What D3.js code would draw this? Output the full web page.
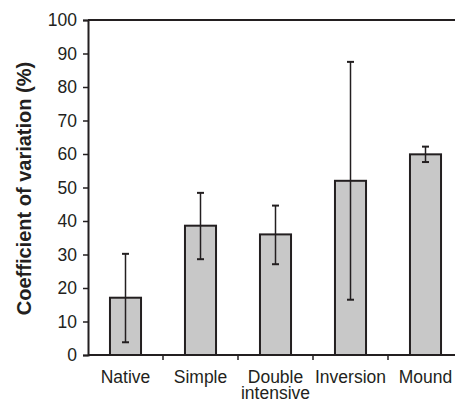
<!DOCTYPE html>
<html>
<head>
<meta charset="utf-8">
<script src="https://cdn.jsdelivr.net/npm/d3@7"></script>
<style>
  body { margin: 0; background: #fff; }
  text { font-family: "Liberation Sans", Arial, sans-serif; fill: #231f20; }
</style>
</head>
<body>
<div id="chart"></div>
<script>
// chart data
var categories = ['Native', 'Simple', 'Double intensive', 'Inversion', 'Mound'];
var means = [17.1, 38.6, 36.0, 52.0, 59.9];
var errLow = [3.8, 28.6, 27.1, 16.5, 57.6];
var errHigh = [30.2, 48.4, 44.6, 87.5, 62.2];
var yTicks = [0, 10, 20, 30, 40, 50, 60, 70, 80, 90, 100];

var width = 455;
var height = 402;
var margin = {top: 20, left: 88, bottom: 47};
var plotRight = 463; // last band runs past the picture edge
var fontSize = 17.5;

var svg = d3.select('#chart').append('svg')
  .attr('width', width)
  .attr('height', height);

var x = d3.scaleBand()
  .domain(categories)
  .range([margin.left, plotRight])
  .paddingInner(0.586)
  .paddingOuter(0.293);

var y = d3.scaleLinear()
  .domain([0, 100])
  .range([height - margin.bottom, margin.top]);

var ink = '#231f20';

// bars
svg.selectAll('rect.bar')
  .data(means)
  .enter().append('rect')
  .attr('class', 'bar')
  .attr('x', function (d, i) { return x(categories[i]); })
  .attr('y', function (d) { return y(d); })
  .attr('width', x.bandwidth())
  .attr('height', function (d) { return y(0) - y(d); })
  .attr('fill', '#c8c8c8')
  .attr('stroke', ink)
  .attr('stroke-width', 2);

// error bars
var cx = function (i) { return x(categories[i]) + x.bandwidth() / 2; };
var eb = svg.append('g').attr('stroke', ink).attr('stroke-width', 1.5);
categories.forEach(function (c, i) {
  eb.append('line')
    .attr('x1', cx(i)).attr('x2', cx(i))
    .attr('y1', y(errLow[i])).attr('y2', y(errHigh[i]));
  [errLow[i], errHigh[i]].forEach(function (v) {
    eb.append('line')
      .attr('x1', cx(i) - 3.5).attr('x2', cx(i) + 3.5)
      .attr('y1', y(v)).attr('y2', y(v))
      .attr('stroke-width', 2);
  });
});

// top frame line
svg.append('line')
  .attr('x1', margin.left).attr('x2', plotRight)
  .attr('y1', y(100)).attr('y2', y(100))
  .attr('stroke', ink).attr('stroke-width', 2);

// y axis
var yAxis = svg.append('g')
  .attr('transform', 'translate(' + margin.left + ',0)')
  .call(d3.axisLeft(y).tickValues(yTicks).tickSize(5).tickPadding(6));
yAxis.select('.domain').attr('stroke', ink).attr('stroke-width', 2);
yAxis.selectAll('.tick line').attr('stroke', ink).attr('stroke-width', 1.5);
yAxis.selectAll('.tick text')
  .attr('font-size', fontSize)
  .attr('font-family', '"Liberation Sans", Arial, sans-serif')
  .attr('fill', ink);

// x axis: ticks sit on band boundaries
var xAxis = svg.append('g')
  .attr('transform', 'translate(0,' + y(0) + ')');
xAxis.append('line')
  .attr('x1', margin.left).attr('x2', plotRight)
  .attr('stroke', ink).attr('stroke-width', 2);
categories.slice(1).forEach(function (c) {
  var bx = x(c) - (x.step() - x.bandwidth()) / 2;
  xAxis.append('line')
    .attr('x1', bx).attr('x2', bx)
    .attr('y1', 0).attr('y2', 5)
    .attr('stroke', ink).attr('stroke-width', 1.5);
});

// x labels
categories.forEach(function (c, i) {
  var words = c === 'Double intensive' ? ['Double', 'intensive'] : [c];
  var t = svg.append('text')
    .attr('x', cx(i))
    .attr('y', y(0) + 28)
    .attr('text-anchor', 'middle')
    .attr('font-size', fontSize);
  words.forEach(function (w, k) {
    t.append('tspan')
      .attr('x', cx(i))
      .attr('dy', k === 0 ? 0 : 16)
      .text(w);
  });
});

// y title
svg.append('text')
  .attr('transform', 'translate(31,' + (y(50) + 1) + ') rotate(-90)')
  .attr('text-anchor', 'middle')
  .attr('font-size', 20)
  .attr('font-weight', 'bold')
  .text('Coefficient of variation (%)');
</script>
</body>
</html>
